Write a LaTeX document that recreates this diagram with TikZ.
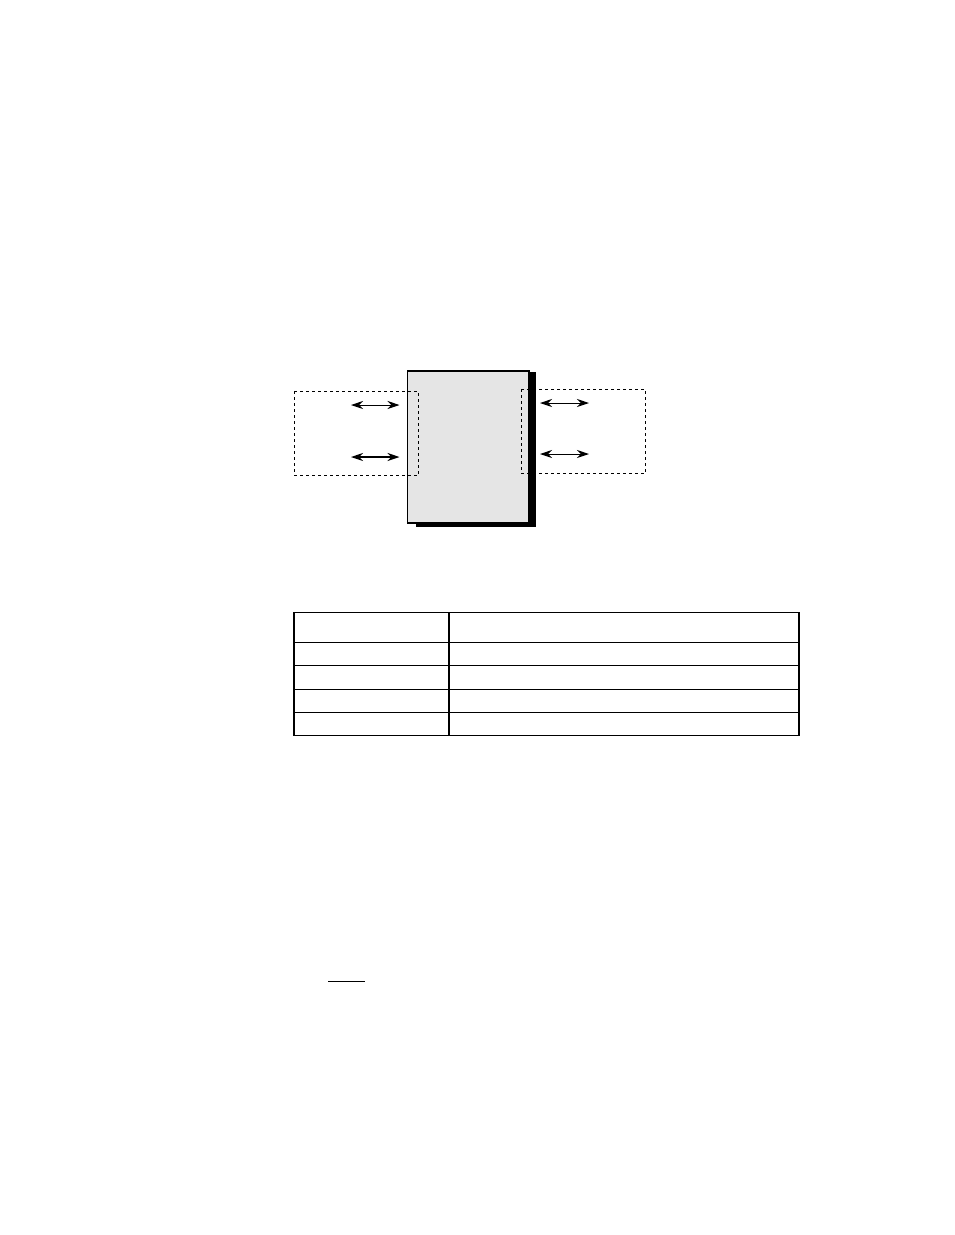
\documentclass[tikz,border=0pt]{standalone}
\usetikzlibrary{arrows.meta}
\definecolor{boxgray}{HTML}{E5E5E5}
\tikzset{
  shadowbox/.style={fill=black,draw=none},
  mainbox/.style={fill=boxgray,draw=black,line width=1.5pt},
  dashbox/.style={draw=black,line width=0.8pt,dash pattern=on 3pt off 3pt},
  biarrow/.style={{Stealth[length=12pt,width=8pt]}-{Stealth[length=12pt,width=8pt]},line width=1pt},
  thickbiarrow/.style={biarrow,line width=1.7pt},
  tableline/.style={draw=black,line width=1.1pt}
}
\begin{document}
\begin{tikzpicture}[x=1pt,y=-1pt]
\useasboundingbox (0,0) rectangle (954,1235);
% shadow and main box
\fill[shadowbox] (416,372) rectangle (536,527);
\node[mainbox,minimum width=121.5pt,minimum height=152pt,inner sep=0pt,anchor=north west] (main) at (406.5,370) {};
% dashed boxes
\draw[dashbox] (294,391.3) rectangle (418.3,475.3);
\draw[dashbox] (521.3,389.3) rectangle (645.7,473.3);
% arrows
\coordinate (l1a) at (351,405); \coordinate (l1b) at (399.5,405);
\coordinate (l2a) at (351,457); \coordinate (l2b) at (399.5,457);
\coordinate (r1a) at (540,403); \coordinate (r1b) at (589,403);
\coordinate (r2a) at (540,454); \coordinate (r2b) at (589,454);
\draw[biarrow] (l1a) -- (l1b);
\draw[thickbiarrow] (l2a) -- (l2b);
\draw[biarrow] (r1a) -- (r1b);
\draw[biarrow] (r2a) -- (r2b);
% table
\draw[tableline] (294,612.5) rectangle (799,735.5);
\draw[tableline] (449,612.5) -- (449,735.5);
\foreach \yy in {642.5,665.5,689.5,712.5} \draw[tableline] (294,\yy) -- (799,\yy);
% short line
\coordinate (s1) at (328,981.3); \coordinate (s2) at (365,981.3);
\draw[line width=1.1pt] (s1) -- (s2);
\end{tikzpicture}
\end{document}
